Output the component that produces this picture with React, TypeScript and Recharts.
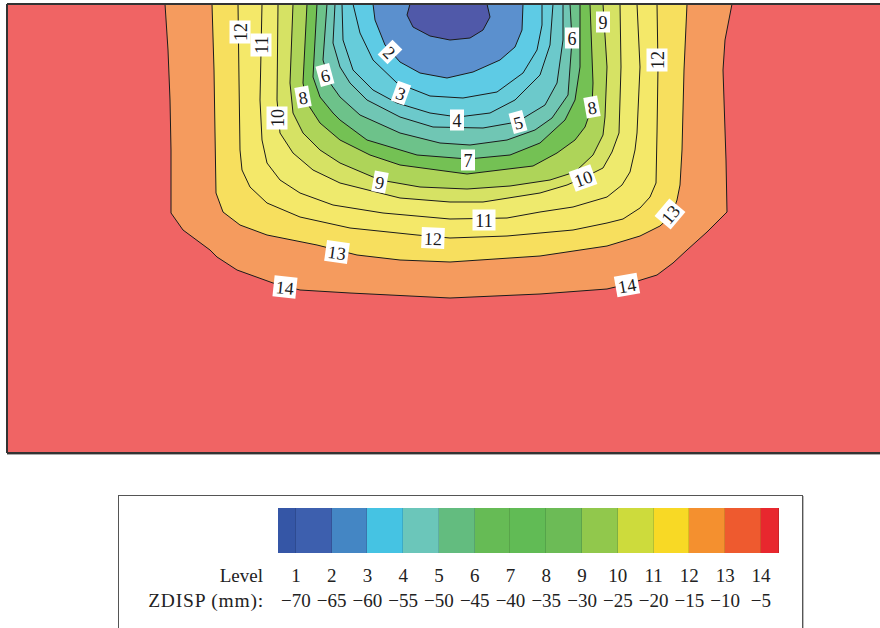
import React from 'react';
import { ComposedChart, Area, Scatter, XAxis, YAxis, CartesianGrid, ReferenceLine } from 'recharts';

// Spatial extent of the section (units)
const X_MAX = 87.3;
const Y_MAX = 44.9;

type P = [number, number];

// Contour lines (x, depth), outermost first
const contour14: P[] = [[15.8,0],[16.1,4.6],[16.3,9.6],[16.4,14.6],[16.4,20.9],[17.6,22.6],[20.3,24.6],[21.0,25.3],[23.0,26.6],[26.6,27.9],[29.3,28.6],[34.3,28.9],[44.3,29.4],[53.3,29.0],[60.0,28.5],[62.1,28.0],[65.0,27.1],[66.6,25.9],[68.0,24.6],[70.0,22.8],[72.0,20.8],[71.9,15.6],[71.7,9.6],[71.6,6.6],[71.8,3.6],[72.5,0]];
const contour13: P[] = [[20.5,0],[20.7,6.6],[20.8,12.9],[20.9,18.9],[21.6,20.8],[23.3,22.1],[26.0,23.1],[31.0,24.1],[33.0,24.6],[35.0,25.1],[39.3,25.6],[44.3,25.8],[53.3,25.2],[60.0,24.2],[63.3,23.2],[65.3,22.2],[66.5,21.1],[67.0,19.6],[67.3,18.1],[67.5,14.6],[67.7,6.6],[68.0,0]];
const contour12: P[] = [[23.1,0],[23.2,7.6],[23.3,14.6],[23.5,16.6],[24.3,18.3],[26.0,19.9],[29.3,21.3],[34.3,22.4],[41.0,23.1],[44.3,23.4],[50.0,23.2],[56.6,22.6],[60.0,21.9],[61.6,21.5],[63.3,20.4],[64.3,19.3],[64.9,17.9],[65.0,12.9],[65.1,6.3],[65.0,0]];
const contour11: P[] = [[25.5,0],[25.3,9.6],[25.5,13.6],[26.0,15.9],[27.3,17.6],[29.3,18.9],[32.6,20.1],[37.6,20.9],[44.3,21.5],[50.0,21.4],[53.3,20.8],[56.6,20.3],[60.0,19.3],[61.5,18.1],[62.3,16.8],[62.8,14.6],[63.0,12.9],[63.3,6.3],[63.0,0]];
const contour10: P[] = [[27.1,0],[27.0,9.6],[27.3,12.9],[28.6,14.9],[30.6,16.6],[33.3,17.9],[39.3,19.4],[44.3,19.8],[47.6,19.8],[53.3,18.9],[56.0,18.1],[57.6,17.4],[59.6,16.4],[60.5,14.8],[61.2,12.9],[61.4,6.3],[61.3,0]];
const contour9: P[] = [[28.6,0],[28.3,7.9],[28.6,10.9],[29.6,12.9],[31.3,14.6],[33.3,15.9],[37.3,17.6],[41.3,18.3],[46.0,18.5],[50.3,18.2],[54.3,17.6],[56.8,16.8],[58.6,15.1],[59.6,13.1],[59.8,11.3],[60.0,6.3],[59.6,0]];
const contour8: P[] = [[30.0,0],[29.6,7.9],[30.0,9.9],[31.3,11.9],[33.3,13.6],[36.3,15.1],[39.3,16.1],[46.0,17.0],[52.6,16.2],[55.0,14.9],[56.8,13.6],[57.8,12.3],[58.5,10.3],[58.6,7.9],[58.3,0]];
const contour7: P[] = [[31.0,0],[30.6,7.3],[31.3,9.3],[32.6,10.9],[33.3,11.6],[36.0,13.6],[41.0,15.1],[46.1,15.5],[50.3,15.1],[53.3,13.9],[55.8,11.6],[56.8,9.6],[57.3,6.3],[57.3,0]];
const contour6: P[] = [[32.0,0],[31.6,5.6],[32.3,7.9],[33.3,9.3],[35.3,11.1],[39.3,12.9],[43.3,13.9],[46.3,14.1],[50.0,13.6],[52.8,12.6],[54.5,11.4],[56.1,9.1],[56.5,3.6],[56.3,0]];
const contour5: P[] = [[32.8,0],[32.6,3.9],[33.3,6.3],[34.3,7.9],[36.0,9.6],[39.3,11.3],[42.6,12.3],[47.6,12.4],[51.0,11.8],[53.8,10.1],[55.0,7.9],[55.6,3.6],[55.6,0]];
const contour4: P[] = [[33.5,0],[33.6,3.6],[34.6,6.6],[36.6,8.6],[39.0,9.9],[42.3,10.9],[45.1,11.3],[48.3,10.9],[50.8,9.6],[53.3,7.1],[54.3,4.1],[54.6,0]];
const contour3: P[] = [[34.6,0],[35.3,2.9],[36.6,5.6],[39.0,7.9],[42.3,9.2],[45.6,9.4],[49.0,8.8],[51.6,6.9],[53.0,4.6],[53.5,2.1],[53.5,0]];
const contour2: P[] = [[36.6,0],[36.8,1.6],[37.8,4.1],[39.3,5.8],[41.3,6.9],[44.0,7.4],[46.6,6.8],[49.3,5.6],[50.8,4.3],[51.5,2.6],[51.6,0]];
const contour1: P[] = [[40.3,0],[40.0,1.1],[40.6,2.3],[42.3,3.2],[44.3,3.6],[46.3,3.4],[47.6,2.6],[48.3,1.3],[48.0,0]];

// Band fill colours inside each contour
const bandFills = ['#F59B5E','#F7DF5E','#F4E869','#EEEA6D','#D6E264','#AED459','#74C154','#6DC28A','#70C6B4','#6CC9CB','#66CCDA','#5ECBE5','#5B90CE','#5059A9'];
const contourLines = [contour14, contour13, contour12, contour11, contour10, contour9, contour8, contour7, contour6, contour5, contour4, contour3, contour2, contour1];

// Contour labels: level, x, depth, angle
const labelLevels = ['12','11','10','8','6','2','3','4','5','7','9','10','11','12','13','14','14','13','6','9','8','12'];
const labelX = [23.3,25.4,27.0,29.6,31.8,38.3,39.4,45.0,51.1,46.1,37.3,57.6,47.7,42.6,33.0,27.8,62.0,66.3,56.5,59.6,58.5,65.0];
const labelY = [2.8,4.1,11.4,9.3,7.1,4.8,8.9,11.6,11.8,15.6,17.8,17.4,21.6,23.4,24.8,28.3,28.1,21.0,3.4,1.8,10.3,5.6];
const labelAngle = [-90,-90,-90,-10,-15,45,20,0,-15,0,10,-20,0,2,8,6,-10,-50,0,0,-10,-90];

// Legend
const legendLevels = ['1','2','3','4','5','6','7','8','9','10','11','12','13','14'];
const legendValues = ['\u221270','\u221265','\u221260','\u221255','\u221250','\u221245','\u221240','\u221235','\u221230','\u221225','\u221220','\u221215','\u221210','\u22125'];
const legendColors = ['#3556A6','#3D5FAE','#4486C4','#45C3E3','#6BC6BA','#63BC7F','#66BB55','#61BB55','#6CBB56','#91C84C','#CDDB3C','#F8D925','#F4902F','#EE5A2F','#E8272E'];

const toData = (pts: P[]) => pts.map(([x, y]) => ({ x, y }));
const labelData = labelLevels.map((t, i) => ({ x: labelX[i], y: labelY[i], text: t, angle: labelAngle[i] }));

const FONT = '"Liberation Serif", "DejaVu Serif", serif';

const LabelShape = (props: any) => {
  const { cx, cy, payload } = props;
  if (cx == null || cy == null) return null;
  const t: string = payload.text;
  const w = t.length * 9 + 5;
  const h = 21;
  return (
    <g transform={`translate(${cx},${cy}) rotate(${payload.angle})`}>
      <rect x={-w / 2} y={-h / 2} width={w} height={h} fill="#ffffff" />
      <text x={0} y={1} textAnchor="middle" dominantBaseline="central" fontFamily={FONT} fontSize={18} fill="#1a1a1a">{t}</text>
    </g>
  );
};

const BAR_LEFT = 278;
const CELL = 35.77;

export default function App() {
  return (
    <div style={{ position: 'absolute', left: 0, top: 0, width: 880, height: 628, overflow: 'hidden', background: '#fff' }}>
      <ComposedChart width={880} height={628} margin={{ top: 4, left: 7, right: 0, bottom: 175 }}>
        <CartesianGrid horizontal={false} vertical={false} fill="#F06464" stroke="none" />
        <XAxis dataKey="x" type="number" domain={[0, X_MAX]} allowDataOverflow hide />
        <YAxis dataKey="y" type="number" domain={[0, Y_MAX]} reversed allowDataOverflow hide />
        {contourLines.map((pts, i) => (
          <Area
            key={i}
            data={toData(pts)}
            dataKey="y"
            type="linear"
            baseValue={0}
            fill={bandFills[i]}
            fillOpacity={1}
            stroke="#1b1b1b"
            strokeWidth={1}
            dot={false}
            activeDot={false}
            isAnimationActive={false}
          />
        ))}
        <Scatter data={labelData} dataKey="y" shape={LabelShape} isAnimationActive={false} />
        <ReferenceLine y={0} stroke="#333" strokeWidth={2} />
        <ReferenceLine x={0} stroke="#333" strokeWidth={2} />
        <ReferenceLine y={Y_MAX} stroke="#333" strokeWidth={2} />
      </ComposedChart>
      <div style={{ position: 'absolute', left: 7, top: 454, width: 873, height: 1, background: '#aaa' }} />
      {/* Legend */}
      <div style={{ position: 'absolute', left: 118, top: 495, width: 683, height: 150, border: '1.5px solid #555', boxShadow: '1px 1px 0 #bbb', background: '#fff' }} />
      <div style={{ position: 'absolute', left: BAR_LEFT, top: 508, height: 45, display: 'flex' }}>
        {legendColors.map((c, i) => (
          <div key={i} style={{ width: i === 0 || i === legendColors.length - 1 ? CELL / 2 : CELL, height: 45, background: c, boxShadow: 'inset -1px 0 0 rgba(0,0,0,0.12)' }} />
        ))}
      </div>
      <div style={{ position: 'absolute', left: 120, top: 564, width: 143, textAlign: 'right', fontFamily: FONT, fontSize: 19, lineHeight: '24px', color: '#222' }}>Level</div>
      <div style={{ position: 'absolute', left: 100, top: 589, width: 164, textAlign: 'right', fontFamily: FONT, fontSize: 19.5, letterSpacing: '0.8px', lineHeight: '24px', color: '#222' }}>ZDISP (mm):</div>
      {legendLevels.map((t, i) => (
        <div key={'l' + i} style={{ position: 'absolute', left: BAR_LEFT + CELL / 2 + i * CELL - 25, top: 564, width: 50, textAlign: 'center', fontFamily: FONT, fontSize: 19, lineHeight: '24px', color: '#222' }}>{t}</div>
      ))}
      {legendValues.map((t, i) => (
        <div key={'v' + i} style={{ position: 'absolute', left: BAR_LEFT + CELL / 2 + i * CELL - 25, top: 589, width: 50, textAlign: 'center', fontFamily: FONT, fontSize: 19, lineHeight: '24px', color: '#222' }}>{t}</div>
      ))}
    </div>
  );
}
